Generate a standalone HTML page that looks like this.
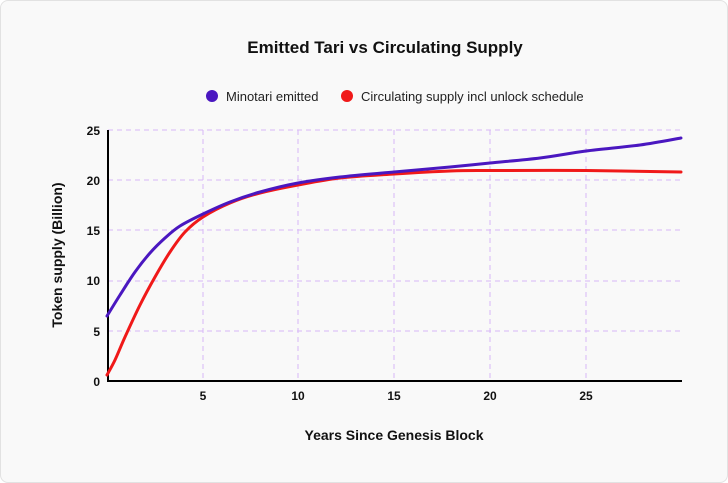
<!DOCTYPE html>
<html><head><style>
body{margin:0;background:#fff;}
.card{position:absolute;left:0;top:0;width:726px;height:481px;border:1px solid #e2e2e2;border-radius:8px;background:#f9f9f9;}
text{font-family:"Liberation Sans",sans-serif;}
</style></head><body>
<div class="card"></div>
<svg width="728" height="483" style="position:absolute;left:0;top:0">
<text x="385" y="53" text-anchor="middle" font-size="17" font-weight="bold" fill="#111">Emitted Tari vs Circulating Supply</text>
<circle cx="212" cy="96" r="6" fill="#4a17c0"/>
<text x="226" y="101" font-size="13" fill="#222">Minotari emitted</text>
<circle cx="347" cy="96" r="6" fill="#f01919"/>
<text x="361" y="101" font-size="13" fill="#222">Circulating supply incl unlock schedule</text>
<g stroke="#d8b8f8" stroke-dasharray="5,4" stroke-width="1">
<line x1="108" y1="130" x2="681" y2="130"/><line x1="108" y1="180" x2="681" y2="180"/>
<line x1="108" y1="230" x2="681" y2="230"/><line x1="108" y1="281" x2="681" y2="281"/>
<line x1="108" y1="331" x2="681" y2="331"/>
<line x1="203" y1="130" x2="203" y2="381"/><line x1="298" y1="130" x2="298" y2="381"/>
<line x1="394" y1="130" x2="394" y2="381"/><line x1="490" y1="130" x2="490" y2="381"/>
<line x1="586" y1="130" x2="586" y2="381"/>
</g>
<g stroke="#000" stroke-width="2"><line x1="108" y1="130" x2="108" y2="382"/><line x1="107" y1="381" x2="682" y2="381"/></g>
<g font-size="12" font-weight="bold" fill="#111" text-anchor="end">
<text x="100" y="135">25</text><text x="100" y="185">20</text><text x="100" y="235">15</text>
<text x="100" y="285">10</text><text x="100" y="336">5</text><text x="100" y="386">0</text>
</g>
<g font-size="12" font-weight="bold" fill="#111" text-anchor="middle">
<text x="203" y="400">5</text><text x="298" y="400">10</text><text x="394" y="400">15</text>
<text x="490" y="400">20</text><text x="586" y="400">25</text>
</g>
<text x="394" y="440" text-anchor="middle" font-size="14" font-weight="bold" fill="#111">Years Since Genesis Block</text>
<text transform="translate(62,255) rotate(-90)" text-anchor="middle" font-size="14" font-weight="bold" fill="#111">Token supply (Billion)</text>
<path id="red" fill="none" stroke="#f01919" stroke-width="3" stroke-linecap="round" d=""/>
<path id="blue" fill="none" stroke="#4a17c0" stroke-width="3" stroke-linecap="round" d=""/>
</svg>
<script>
function cr(p){var d="M"+p[0][0]+","+p[0][1];for(var i=0;i<p.length-1;i++){var a=p[i-1]||p[i],b=p[i],c=p[i+1],e=p[i+2]||c;
d+=" C"+(b[0]+(c[0]-a[0])/6)+","+(b[1]+(c[1]-a[1])/6)+" "+(c[0]-(e[0]-b[0])/6)+","+(c[1]-(e[1]-b[1])/6)+" "+c[0]+","+c[1];}return d;}
document.getElementById("red").setAttribute("d",cr([[107,375],[115,360],[125,337],[140,305],[155,277],[170,252],[185,232],[203,217],[230,203],[260,193],[298,185],[340,178],[394,174],[450,171],[490,170.5],[586,170.5],[681,172]]));
document.getElementById("blue").setAttribute("d",cr([[107,316],[120,295],[135,272],[150,253],[165,238],[180,226],[203,214],[230,202],[260,192],[298,183],[340,177],[394,172],[450,167],[490,163],[540,158],[586,151],[640,145],[681,138]]));
</script>
</body></html>
